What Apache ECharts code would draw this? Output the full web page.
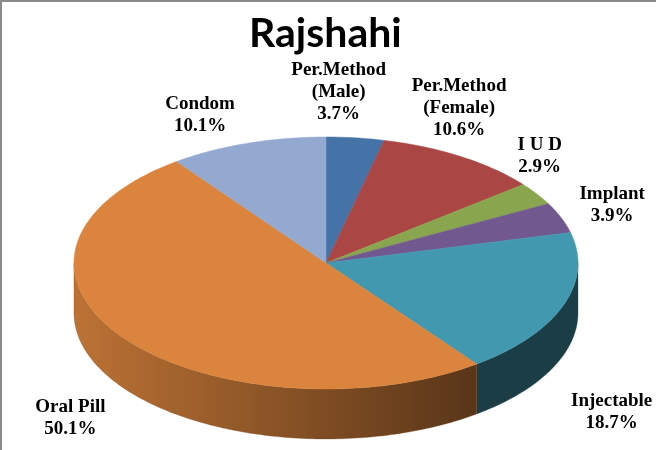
<!DOCTYPE html>
<html>
<head>
<meta charset="utf-8">
<script src="https://cdn.jsdelivr.net/npm/echarts@6/dist/echarts.min.js"></script>
<style>
  html, body { margin: 0; padding: 0; background: #fff; }
  #main { width: 656px; height: 450px; }
</style>
</head>
<body>
<div id="main"></div>
<script>
// slices, clockwise from 12 o'clock
var methods = ['Per.Method\n(Male)', 'Per.Method\n(Female)', 'I U D', 'Implant', 'Injectable', 'Oral Pill', 'Condom'];
var shares = [3.7, 10.6, 2.9, 3.9, 18.7, 50.1, 10.1];
var sliceColors = ['#4572A7', '#AA4643', '#89A54E', '#71588F', '#4198AF', '#DB843D', '#93A9CF'];
// where Excel pushed each label, relative to its radial anchor
var labelNudge = [[-20, -16], [-18, -23], [-22, -21], [23, -2], [20, 47], [-29, 12], [-38, 0]];

var chartDom = document.getElementById('main');
var myChart = echarts.init(chartDom);

// tilted pie geometry
var cx = 326, cy = 263, rx = 252, ry = 126, depth = 50;

var total = 0, starts = [];
shares.forEach(function (v) { starts.push(total); total += v; });

function pt(deg, dy) {
    var r = deg * Math.PI / 180;
    return [cx + rx * Math.sin(r), cy - ry * Math.cos(r) + (dy || 0)];
}

function arc(a0, a1, dy) {
    var pts = [];
    var n = Math.max(2, Math.ceil(Math.abs(a1 - a0)));
    for (var k = 0; k <= n; k++) {
        pts.push(pt(a0 + (a1 - a0) * k / n, dy));
    }
    return pts;
}

function shade(hex, f) {
    var n = parseInt(hex.slice(1), 16);
    var r = Math.round(((n >> 16) & 255) * f);
    var g = Math.round(((n >> 8) & 255) * f);
    var b = Math.round((n & 255) * f);
    return 'rgb(' + r + ',' + g + ',' + b + ')';
}

function renderSlice(params, api) {
    var i = params.dataIndex;
    var a0 = starts[i] / total * 360;
    var a1 = (starts[i] + api.value(0)) / total * 360;
    var col = sliceColors[i];
    var children = [];

    // front wall (only the part facing us, 90..270 deg)
    var s0 = Math.max(a0, 90), s1 = Math.min(a1, 270);
    if (s1 > s0) {
        var wall = arc(s0, s1, 0).concat(arc(s1, s0, depth));
        children.push({
            type: 'polygon',
            z2: 1,
            shape: { points: wall },
            style: {
                fill: {
                    type: 'linear', x: cx - rx, y: 0, x2: cx + rx, y2: 0, global: true,
                    colorStops: [
                        { offset: 0, color: shade(col, 0.86) },
                        { offset: 0.8, color: shade(col, 0.40) },
                        { offset: 1, color: shade(col, 0.40) }
                    ]
                },
                stroke: shade(col, 0.5),
                lineWidth: 0.3
            }
        });
    }

    // top face
    children.push({
        type: 'polygon',
        z2: 2,
        shape: { points: [[cx, cy]].concat(arc(a0, a1, 0)) },
        style: { fill: col, stroke: col, lineWidth: 0.5 }
    });

    // label
    var m = (a0 + a1) / 2 * Math.PI / 180;
    var front = Math.cos(m) < 0;
    var lx = cx + (rx + 30) * Math.sin(m) + labelNudge[i][0];
    var ly = cy - (ry + 30) * Math.cos(m) + (front ? depth : 0) + labelNudge[i][1];
    children.push({
        type: 'text',
        z2: 3,
        x: lx,
        y: ly,
        style: {
            text: methods[i] + '\n' + shares[i].toFixed(1) + '%',
            fill: '#000',
            fontFamily: 'Liberation Serif',
            fontWeight: 'bold',
            fontSize: 19,
            lineHeight: 22,
            align: 'center',
            verticalAlign: 'middle'
        }
    });

    return { type: 'group', children: children };
}

var option = {
    animation: false,
    title: {
        text: 'Rajshahi',
        left: 244,
        top: 8,
        textStyle: {
            fontFamily: 'Lato',
            fontWeight: 'bold',
            fontSize: 41,
            color: '#000'
        }
    },
    graphic: [{
        type: 'rect',
        silent: true,
        shape: { x: 1, y: 1, width: 700, height: 500 },
        style: { fill: 'none', stroke: '#8a8a8a', lineWidth: 2 }
    }],
    series: [{
        type: 'custom',
        coordinateSystem: 'none',
        silent: true,
        renderItem: renderSlice,
        data: shares.map(function (v, i) { return { name: methods[i], value: v }; })
    }]
};

option && myChart.setOption(option);
</script>
</body>
</html>
